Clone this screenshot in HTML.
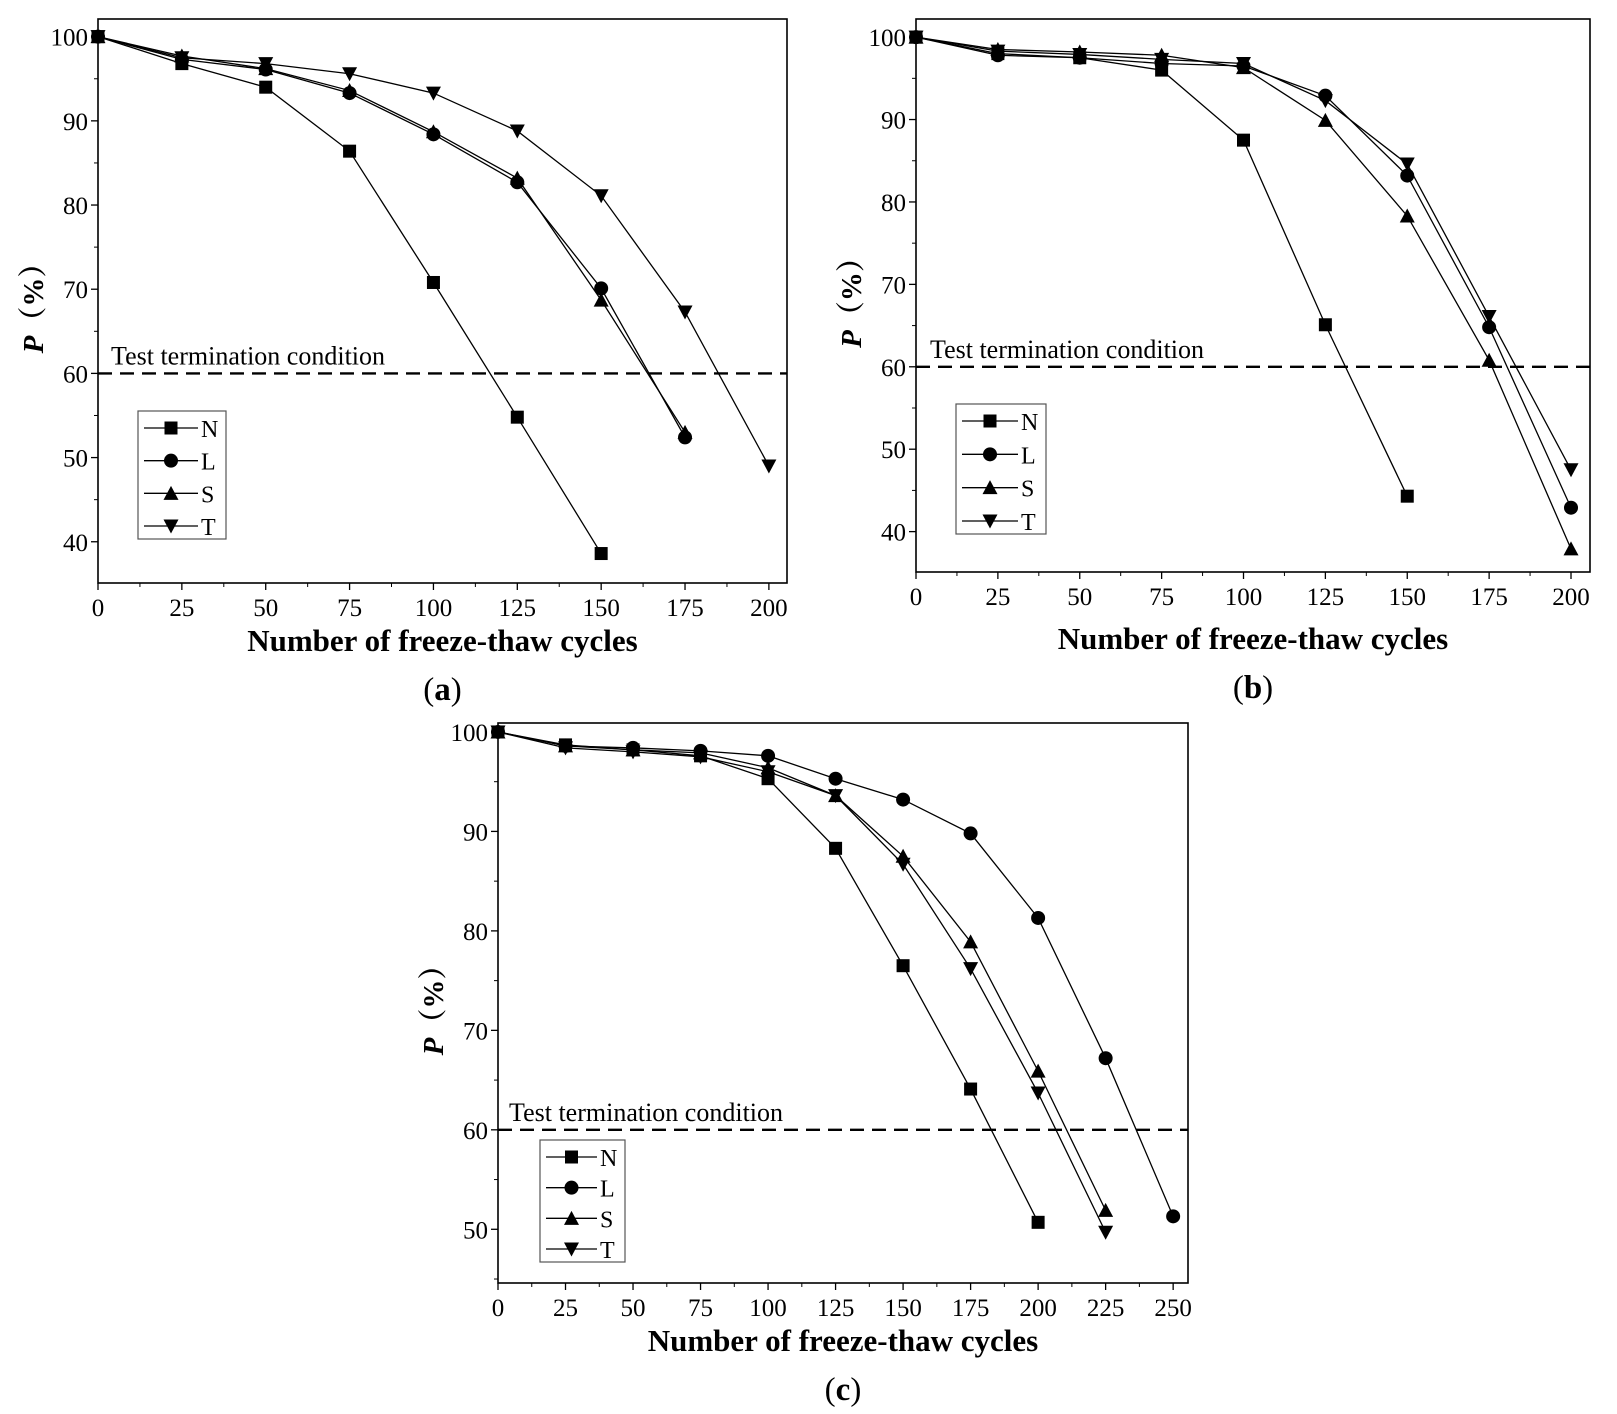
<!DOCTYPE html>
<html><head><meta charset="utf-8"><style>
body{margin:0;background:#fff;}
svg{display:block;font-family:"Liberation Serif","Noto Serif CJK SC",serif;}
</style></head><body>
<svg id="fig" width="1617" height="1414" viewBox="0 0 1617 1414"></svg>
<script>
const seriesNames = ["N","L","S","T"];
const xTicksAB = [0,25,50,75,100,125,150,175,200];
const xTicksC = [0,25,50,75,100,125,150,175,200,225,250];
const yTicksAB = [40,50,60,70,80,90,100];
const yTicksC = [50,60,70,80,90,100];
const aN = [100,96.8,94,86.4,70.8,54.8,38.6];
const aL = [100,97.3,96.1,93.3,88.4,82.7,70.1,52.4];
const aS = [100,97.7,96.2,93.6,88.7,83.2,68.7,53.0];
const aT = [100,97.5,96.8,95.6,93.3,88.8,81.1,67.3,49.0];
const bN = [100,98,97.5,96,87.5,65.1,44.3];
const bL = [100,97.8,97.5,96.8,96.5,92.9,83.2,64.8,42.9];
const bS = [100,98.5,98.2,97.8,96.3,89.9,78.3,60.8,37.9];
const bT = [100,98.3,97.9,97.3,96.8,92.3,84.6,66.1,47.5];
const cN = [100,98.7,98.2,97.6,95.3,88.3,76.5,64.1,50.7];
const cL = [100,98.6,98.4,98.1,97.6,95.3,93.2,89.8,81.3,67.2,51.3];
const cS = [100,98.6,98.2,97.9,96.4,93.6,87.5,78.9,65.9,51.9];
const cT = [100,98.4,98.0,97.5,96.0,93.6,86.7,76.2,63.7,49.7];
const xStep = 25;
const threshold = 60;

const NS="http://www.w3.org/2000/svg";
const svg=document.getElementById('fig');
function mk(tag,attrs,parent){const e=document.createElementNS(NS,tag);for(const k in attrs)e.setAttribute(k,attrs[k]);(parent||svg).appendChild(e);return e;}
function marker(g,kind,x,y){
  const s=6.5;let e;
  if(kind==="N") e=mk('rect',{x:x-s,y:y-s,width:2*s,height:2*s,fill:'#000'},g);
  else if(kind==="L") e=mk('circle',{cx:x,cy:y,r:s+0.5,fill:'#000'},g);
  else if(kind==="S") e=mk('polygon',{points:`${x},${y-s-1} ${x-s-1},${y+s} ${x+s+1},${y+s}`,fill:'#000'},g);
  else e=mk('polygon',{points:`${x},${y+s+1} ${x-s-1},${y-s} ${x+s+1},${y-s}`,fill:'#000'},g);
  return e;
}
function panel(p){
  const g=mk('g',{});
  
  
  const X=v=>p.L+(v-p.xmin)/(p.xmax-p.xmin)*(p.R-p.L);
  const Y=v=>p.B-(v-p.ymin)/(p.ymax-p.ymin)*(p.B-p.T);
  const frame=mk('rect',{x:p.L,y:p.T,width:p.R-p.L,height:p.B-p.T,fill:'none',stroke:'#000','stroke-width':1.6},g);
  
  p.xt.forEach(v=>{
    mk('line',{x1:X(v),x2:X(v),y1:p.B,y2:p.B+7,stroke:'#000','stroke-width':1.3},g);
    const t=mk('text',{x:X(v),y:p.B+33,'font-size':25,'text-anchor':'middle'},g);t.textContent=v;
    
  });
  for(let v=p.xt[0]+12.5;v<p.xmax;v+=25) mk('line',{x1:X(v),x2:X(v),y1:p.B,y2:p.B+4,stroke:'#000','stroke-width':1},g);
  p.yt.forEach(v=>{
    mk('line',{x1:p.L,x2:p.L-7,y1:Y(v),y2:Y(v),stroke:'#000','stroke-width':1.3},g);
    const t=mk('text',{x:p.L-10,y:Y(v)+9,'font-size':25,'text-anchor':'end'},g);t.textContent=v;
    
  });
  for(let v=p.yt[0]-5;v<p.ymax;v+=10) if(v>p.ymin) mk('line',{x1:p.L,x2:p.L-4,y1:Y(v),y2:Y(v),stroke:'#000','stroke-width':1},g);
  const th=mk('line',{x1:p.L,x2:p.R,y1:Y(threshold),y2:Y(threshold),stroke:'#000','stroke-width':2.4,'stroke-dasharray':'14,8'},g);
  
  const tt=mk('text',{x:p.ttx,y:Y(threshold)-9,'font-size':26},g);tt.textContent="Test termination condition";
  
  p.data.forEach((arr,i)=>{
    const pts=arr.map((v,j)=>X(j*xStep)+','+Y(v)).join(' ');
    const pl=mk('polyline',{points:pts,fill:'none',stroke:'#000','stroke-width':1.3},g);
    
    arr.forEach((v,j)=>{const m=marker(g,seriesNames[i],X(j*xStep),Y(v));
      });
  });
  const lg=mk('g',{},g);
  mk('rect',{x:p.lg[0],y:p.lg[1],width:p.lg[2],height:p.lg[3],fill:'#fff',stroke:'#555','stroke-width':1.2},lg);
  seriesNames.forEach((n,i)=>{
    const yy=p.lg[1]+17+i*(p.lg[3]-30)/3;
    const x0=p.lg[0]+6,x1=p.lg[0]+p.lg[2]-28;
    mk('line',{x1:x0,x2:x1,y1:yy,y2:yy,stroke:'#000','stroke-width':1.3},lg);
    marker(lg,n,(x0+x1)/2,yy);
    const t=mk('text',{x:x1+3,y:yy+9,'font-size':24},lg);t.textContent=n;
    
  });
  const off=p.off||0;
  const xt=mk('text',{x:(p.L+p.R)/2,y:p.B+68+off,'font-size':31,'font-weight':'bold','text-anchor':'middle'},g);
  xt.textContent="Number of freeze-thaw cycles";
  const yl=mk('text',{x:0,y:0,'font-size':29,'font-weight':'bold','text-anchor':'middle',transform:`translate(${p.L-55},${(p.T+p.B)/2}) rotate(-90)`},g);
  yl.innerHTML='<tspan font-style="italic">P</tspan>（%）';
  
  const cap=mk('text',{x:(p.L+p.R)/2,y:p.B+117+off,'font-size':33,'text-anchor':'middle'},g);
  cap.innerHTML='(<tspan font-weight="bold">'+p.id+'</tspan>)';
  
}
panel({id:'a',L:98,R:787,T:19,B:583,xmin:0,xmax:205.4,ymin:35.1,ymax:102.1,xt:xTicksAB,yt:yTicksAB,data:[aN,aL,aS,aT],ttx:111,lg:[138,411,88,128]});
panel({id:'b',L:916,R:1590,T:19,B:572,off:9,xmin:0,xmax:205.8,ymin:35.1,ymax:102.2,xt:xTicksAB,yt:yTicksAB,data:[bN,bL,bS,bT],ttx:930,lg:[956,404,90,130]});
panel({id:'c',L:498,R:1188,T:723,B:1283,xmin:0,xmax:255.5,ymin:44.6,ymax:100.9,xt:xTicksC,yt:yTicksC,data:[cN,cL,cS,cT],ttx:509,lg:[540,1140,85,122]});
</script>
</body></html>
